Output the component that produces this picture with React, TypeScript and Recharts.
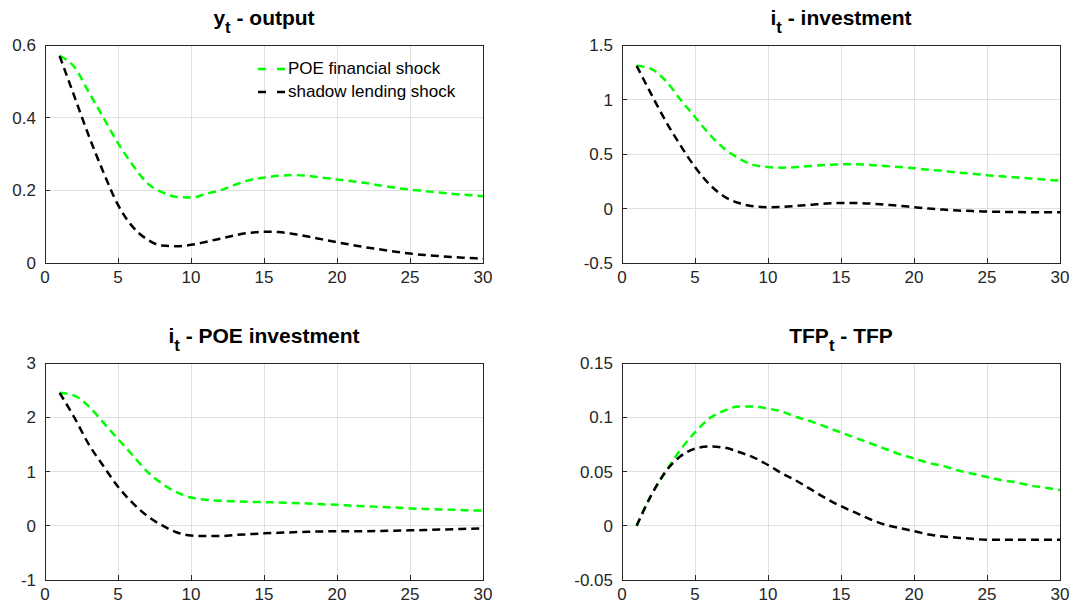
import React from 'react';
import { LineChart, Line, XAxis, YAxis, Legend, ReferenceArea, ReferenceLine } from 'recharts';

// horizonte de la respuesta al impulso
const periods = [1, 2, 3, 4, 5, 6, 7, 8, 9, 10, 11, 12, 13, 14, 15, 16, 17, 18, 19, 20, 21, 22, 23, 24, 25, 26, 27, 28, 29, 30];
const xTicks = [0, 5, 10, 15, 20, 25, 30];

// y_t - output
const outputPoe = [0.57, 0.54, 0.47, 0.4, 0.33, 0.27, 0.22, 0.195, 0.182, 0.18, 0.19, 0.2, 0.215, 0.228, 0.235, 0.24, 0.242, 0.24, 0.235, 0.23, 0.225, 0.22, 0.213, 0.207, 0.202, 0.198, 0.194, 0.19, 0.187, 0.184];
const outputShadow = [0.57, 0.46, 0.35, 0.25, 0.16, 0.1, 0.065, 0.048, 0.046, 0.05, 0.058, 0.067, 0.076, 0.083, 0.086, 0.085, 0.08, 0.073, 0.065, 0.057, 0.05, 0.043, 0.037, 0.031, 0.026, 0.022, 0.019, 0.016, 0.014, 0.012];
const outputTicks = [0, 0.2, 0.4, 0.6];

// i_t - investment
const investPoe = [1.31, 1.28, 1.17, 1.0, 0.84, 0.68, 0.55, 0.46, 0.4, 0.38, 0.375, 0.38, 0.39, 0.4, 0.405, 0.405, 0.4, 0.39, 0.38, 0.37, 0.355, 0.345, 0.33, 0.32, 0.305, 0.295, 0.285, 0.275, 0.265, 0.255];
const investShadow = [1.31, 1.05, 0.8, 0.58, 0.38, 0.22, 0.11, 0.05, 0.02, 0.012, 0.015, 0.025, 0.035, 0.045, 0.05, 0.05, 0.045, 0.035, 0.025, 0.012, 0.0, -0.01, -0.018, -0.024, -0.028, -0.031, -0.033, -0.034, -0.034, -0.034];
const investTicks = [-0.5, 0, 0.5, 1, 1.5];

// i_t - POE investment
const poeInvPoe = [2.45, 2.4, 2.2, 1.9, 1.6, 1.3, 1.0, 0.78, 0.62, 0.52, 0.48, 0.46, 0.45, 0.44, 0.435, 0.43, 0.42, 0.41, 0.395, 0.385, 0.37, 0.36, 0.345, 0.335, 0.32, 0.31, 0.3, 0.295, 0.285, 0.28];
const poeInvShadow = [2.45, 2.0, 1.5, 1.1, 0.72, 0.42, 0.18, 0.01, -0.12, -0.18, -0.19, -0.19, -0.17, -0.155, -0.14, -0.13, -0.12, -0.11, -0.105, -0.1, -0.1, -0.1, -0.095, -0.09, -0.085, -0.08, -0.07, -0.065, -0.055, -0.05];
const poeInvTicks = [-1, 0, 1, 2, 3];

// TFP_t - TFP
const tfpPoe = [0, 0.028, 0.05, 0.07, 0.086, 0.099, 0.106, 0.11, 0.11, 0.108, 0.105, 0.1, 0.096, 0.091, 0.086, 0.081, 0.076, 0.071, 0.066, 0.062, 0.058, 0.055, 0.051, 0.048, 0.045, 0.042, 0.04, 0.037, 0.035, 0.033];
const tfpShadow = [0, 0.028, 0.05, 0.064, 0.071, 0.073, 0.072, 0.068, 0.063, 0.056, 0.048, 0.041, 0.033, 0.025, 0.018, 0.012, 0.006, 0.001, -0.002, -0.005, -0.008, -0.01, -0.011, -0.012, -0.013, -0.013, -0.013, -0.013, -0.013, -0.013];
const tfpTicks = [-0.05, 0, 0.05, 0.1, 0.15];

const FONT = 'Arial, "Liberation Sans", Helvetica, sans-serif';
const AXIS = '#262626';
const GRID = '#e0e0e0';
const DASH = '8 5';

const PLOT_W = 438;
// los ejes ocupan 1px, por eso los márgenes van 1px por debajo
const MARGIN = { top: 44, left: 79, right: 29, bottom: 34 };
const axisLine = { stroke: AXIS, strokeWidth: 1, shapeRendering: 'crispEdges' };
const tickLine = { stroke: AXIS, strokeWidth: 1, shapeRendering: 'crispEdges' };

const LegendBox = ({ payload }: any) => (
  <div style={{ fontFamily: FONT, fontSize: 17, color: '#000' }}>
    {(payload || []).map((entry: any, i: number) => (
      <div key={i} style={{ display: 'flex', alignItems: 'center', height: 23, whiteSpace: 'nowrap' }}>
        <svg width={30} height={10}>
          <line x1={0} y1={5} x2={27} y2={5} stroke={entry.color} strokeWidth={2.5} strokeDasharray="8 11" />
        </svg>
        <span>{entry.value}</span>
      </div>
    ))}
  </div>
);

interface PanelProps {
  plotX: number;
  plotY: number;
  plotH: number;
  title: React.ReactNode;
  poe: number[];
  shadow: number[];
  ticks: number[];
  showLegend?: boolean;
}

function Panel({ plotX, plotY, plotH, title, poe, shadow, ticks, showLegend }: PanelProps) {
  const data = periods.map((p, i) => ({ periodo: p, poe: poe[i], shadow: shadow[i] }));
  const yMin = ticks[0];
  const yMax = ticks[ticks.length - 1];
  const width = PLOT_W + MARGIN.left + MARGIN.right + 2;
  const height = plotH + MARGIN.top + MARGIN.bottom + 2;
  const left = plotX - MARGIN.left - 1;
  const top = plotY - MARGIN.top - 1;

  // rejilla sólo en los ticks interiores (los bordes los dibuja el marco)
  const innerX = xTicks.slice(1, -1);
  const innerY = ticks.slice(1, -1);

  return (
    <div style={{ position: 'absolute', left, top, width, height }}>
      <div
        style={{
          position: 'absolute',
          left: MARGIN.left + 1,
          width: PLOT_W,
          top: 7,
          textAlign: 'center',
          fontFamily: FONT,
          fontWeight: 'bold',
          fontSize: 21,
          lineHeight: '21px',
          color: '#000',
          whiteSpace: 'nowrap',
        }}
      >
        {title}
      </div>
      <LineChart width={width} height={height} data={data} margin={MARGIN}>
        {innerX.map((v) => (
          <ReferenceLine key={'gx' + v} x={v} stroke={GRID} strokeWidth={1} shapeRendering="crispEdges" />
        ))}
        {innerY.map((v) => (
          <ReferenceLine key={'gy' + v} y={v} stroke={GRID} strokeWidth={1} shapeRendering="crispEdges" />
        ))}
        <XAxis
          dataKey="periodo"
          type="number"
          domain={[0, 30]}
          ticks={xTicks}
          height={1}
          axisLine={axisLine}
          tickLine={tickLine}
          tickSize={-5}
          tickMargin={13}
          tick={{ fill: AXIS, fontSize: 17, fontFamily: FONT }}
        />
        <XAxis
          xAxisId="top"
          orientation="top"
          dataKey="periodo"
          type="number"
          domain={[0, 30]}
          ticks={xTicks}
          height={1}
          axisLine={axisLine}
          tickLine={tickLine}
          tickSize={-5}
          tick={false}
        />
        <YAxis
          type="number"
          domain={[yMin, yMax]}
          ticks={ticks}
          width={1}
          axisLine={axisLine}
          tickLine={tickLine}
          tickSize={-5}
          tickMargin={14}
          allowDataOverflow
          tick={{ fill: AXIS, fontSize: 17, fontFamily: FONT }}
        />
        <YAxis
          yAxisId="right"
          orientation="right"
          type="number"
          domain={[yMin, yMax]}
          ticks={ticks}
          width={1}
          axisLine={axisLine}
          tickLine={tickLine}
          tickSize={-5}
          tick={false}
        />
        <ReferenceArea
          x1={0}
          x2={30}
          y1={yMin}
          y2={yMax}
          fill="none"
          stroke={AXIS}
          strokeWidth={1}
          shapeRendering="crispEdges"
          ifOverflow="visible"
        />
        {showLegend && (
          <Legend
            layout="vertical"
            align="center"
            verticalAlign="middle"
            content={<LegendBox />}
            wrapperStyle={{ left: 258 - left, top: 57 - top, width: 'auto' }}
          />
        )}
        <Line
          type="monotone"
          dataKey="poe"
          name="POE financial shock"
          stroke="#00ff00"
          strokeWidth={2.5}
          strokeDasharray={DASH}
          dot={false}
          isAnimationActive={false}
        />
        <Line
          type="monotone"
          dataKey="shadow"
          name="shadow lending shock"
          stroke="#000000"
          strokeWidth={2.5}
          strokeDasharray={DASH}
          dot={false}
          isAnimationActive={false}
        />
      </LineChart>
      {/* marco tipo MATLAB encima del área del gráfico */}
      <div
        style={{
          position: 'absolute',
          left: MARGIN.left + 1,
          top: MARGIN.top + 1,
          width: PLOT_W + 1,
          height: plotH + 1,
          border: `1px solid ${AXIS}`,
          boxSizing: 'border-box',
          pointerEvents: 'none',
        }}
      />
    </div>
  );
}

const sub = (s: string) => (
  <sub style={{ fontSize: '0.8em', verticalAlign: '-0.45em', lineHeight: 0 }}>{s}</sub>
);

export default function App() {
  return (
    <div style={{ position: 'absolute', left: 0, top: 0, width: 1075, height: 612, background: '#fff', overflow: 'hidden' }}>
      <Panel plotX={45} plotY={45} plotH={218} title={<span>y{sub('t')} - output</span>} poe={outputPoe} shadow={outputShadow} ticks={outputTicks} showLegend />
      <Panel plotX={622} plotY={45} plotH={218} title={<span>i{sub('t')} - investment</span>} poe={investPoe} shadow={investShadow} ticks={investTicks} />
      <Panel plotX={45} plotY={363} plotH={217} title={<span>i{sub('t')} - POE investment</span>} poe={poeInvPoe} shadow={poeInvShadow} ticks={poeInvTicks} />
      <Panel plotX={622} plotY={363} plotH={217} title={<span>TFP{sub('t')} - TFP</span>} poe={tfpPoe} shadow={tfpShadow} ticks={tfpTicks} />
    </div>
  );
}
